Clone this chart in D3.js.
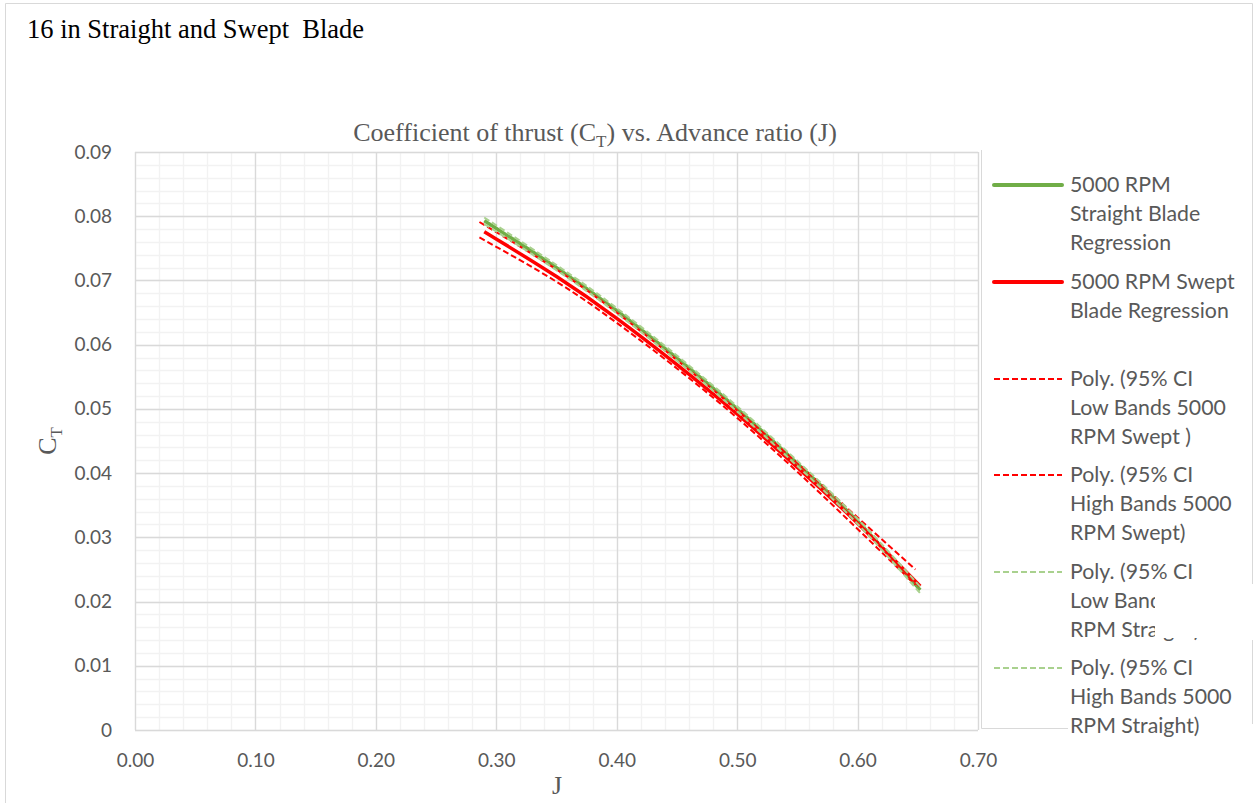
<!DOCTYPE html>
<html><head><meta charset="utf-8">
<script src="https://cdn.jsdelivr.net/npm/d3@7"></script>
<style>body{margin:0;background:#fff}svg{display:block}</style>
</head><body>
<svg id="c" width="1254" height="803"></svg>
<script>
// Data
const jReg = [0.29, 0.35, 0.40, 0.45, 0.50, 0.55, 0.60, 0.652];
const straightReg = [0.0793, 0.0720, 0.0653, 0.0579, 0.0500, 0.0415, 0.0325, 0.0218];
const sweptReg = [0.0776, 0.0706, 0.0641, 0.0569, 0.0492, 0.0409, 0.0322, 0.0224];
const jBandSwept = [0.286, 0.35, 0.40, 0.45, 0.50, 0.55, 0.60, 0.648];
const sweptLow = [0.0767, 0.0698, 0.0634, 0.0563, 0.0486, 0.0402, 0.0313, 0.0226];
const sweptHigh = [0.0791, 0.0717, 0.0650, 0.0576, 0.0498, 0.0416, 0.0331, 0.0250];
const jBandStraight = [0.29, 0.35, 0.40, 0.45, 0.50, 0.55, 0.60, 0.652];
const straightLow = [0.0788, 0.0716, 0.0649, 0.0575, 0.0496, 0.0411, 0.0321, 0.0213];
const straightHigh = [0.0798, 0.0724, 0.0657, 0.0583, 0.0504, 0.0419, 0.0329, 0.0223];
const xTicks = [0, 0.1, 0.2, 0.3, 0.4, 0.5, 0.6, 0.7];
const yTicks = [0, 0.01, 0.02, 0.03, 0.04, 0.05, 0.06, 0.07, 0.08, 0.09];
const legendLabels = [
  ["5000 RPM", "Straight Blade", "Regression"],
  ["5000 RPM Swept", "Blade Regression"],
  ["Poly. (95% CI", "Low Bands 5000", "RPM Swept )"],
  ["Poly. (95% CI", "High Bands 5000", "RPM Swept)"],
  ["Poly. (95% CI", "Low Bands 5000", "RPM Straight)"],
  ["Poly. (95% CI", "High Bands 5000", "RPM Straight)"]
];

const svg = d3.select("#c");
const x = d3.scaleLinear().domain([0, 0.7]).range([135, 978]);
const y = d3.scaleLinear().domain([0, 0.09]).range([730, 152]);

// chart border
svg.append("path").attr("d", "M5.5,803 V3.5 H1252.5 V585").attr("fill", "none").attr("stroke", "#D9D9D9");
svg.append("path").attr("d", "M1252.5,640 V724").attr("fill", "none").attr("stroke", "#D9D9D9");

// minor grid
const g = svg.append("g");
g.selectAll(".mx").data(d3.range(0, 0.7001, 0.02)).join("line")
  .attr("x1", d => Math.round(x(d)) + 0.5).attr("x2", d => Math.round(x(d)) + 0.5)
  .attr("y1", y(0)).attr("y2", y(0.09)).attr("stroke", "#F2F2F2").attr("stroke-width", 1.3);
g.selectAll(".my").data(d3.range(0, 0.09001, 0.002)).join("line")
  .attr("y1", d => Math.round(y(d)) + 0.5).attr("y2", d => Math.round(y(d)) + 0.5)
  .attr("x1", x(0)).attr("x2", x(0.7)).attr("stroke", "#F2F2F2").attr("stroke-width", 1.3);
// major grid
g.selectAll(".Mx").data(xTicks).join("line")
  .attr("x1", d => Math.round(x(d)) + 0.5).attr("x2", d => Math.round(x(d)) + 0.5)
  .attr("y1", y(0)).attr("y2", y(0.09)).attr("stroke", "#D9D9D9").attr("stroke-width", 1.3);
g.selectAll(".My").data(yTicks).join("line")
  .attr("y1", d => Math.round(y(d)) + 0.5).attr("y2", d => Math.round(y(d)) + 0.5)
  .attr("x1", x(0)).attr("x2", x(0.7)).attr("stroke", "#D9D9D9").attr("stroke-width", 1.3);

// axes labels via d3 axes
const xAxis = svg.append("g").attr("transform", `translate(0,${y(0)})`)
  .call(d3.axisBottom(x).tickValues(xTicks).tickFormat(d3.format(".2f")).tickSize(0).tickPadding(24));
const yAxis = svg.append("g").attr("transform", `translate(${x(0)},0)`)
  .call(d3.axisLeft(y).tickValues(yTicks).tickFormat(d => d === 0 ? "0" : d3.format(".2f")(d)).tickSize(0).tickPadding(23));
[xAxis, yAxis].forEach(a => {
  a.select(".domain").remove();
  a.selectAll("text").attr("font-family", "Lato, 'Noto Sans', sans-serif").attr("font-size", 19).attr("fill", "#595959");
});

// curves
const line = d3.line().x(d => x(d[0])).y(d => y(d[1])).curve(d3.curveNatural);
const series = [
  {j: jReg, v: straightReg, color: "#70AD47", w: 3.5, dash: null},
  {j: jReg, v: sweptReg, color: "#FF0000", w: 3.5, dash: null},
  {j: jBandSwept, v: sweptLow, color: "#FF0000", w: 2, dash: "6,3"},
  {j: jBandSwept, v: sweptHigh, color: "#FF0000", w: 2, dash: "6,3"},
  {j: jBandStraight, v: straightLow, color: "#A9D18E", w: 2, dash: "6,3"},
  {j: jBandStraight, v: straightHigh, color: "#A9D18E", w: 2, dash: "6,3"}
];
series.forEach(s => {
  svg.append("path").datum(s.j.map((j, i) => [j, s.v[i]]))
    .attr("d", line).attr("fill", "none").attr("stroke", s.color)
    .attr("stroke-width", s.w).attr("stroke-dasharray", s.dash);
});

// titles
svg.append("text").attr("x", 27).attr("y", 38).attr("font-family", "'Liberation Serif', 'Times New Roman', serif")
  .attr("font-size", 26.5).attr("fill", "#000").style("white-space", "pre").text("16 in Straight and Swept  Blade");
const t = svg.append("text").attr("x", 595).attr("y", 141).attr("text-anchor", "middle")
  .attr("font-family", "'Liberation Serif', serif").attr("font-size", 26).attr("fill", "#595959");
t.append("tspan").text("Coefficient of thrust (C");
t.append("tspan").attr("font-size", 17).attr("dy", 6).text("T");
t.append("tspan").attr("dy", -6).text(") vs. Advance ratio (J)");
svg.append("text").attr("x", 557).attr("y", 794).attr("text-anchor", "middle")
  .attr("font-family", "'Liberation Serif', serif").attr("font-size", 26).attr("fill", "#595959").text("J");
const yt = svg.append("text").attr("transform", "translate(56,441) rotate(-90)").attr("text-anchor", "middle")
  .attr("font-family", "'Liberation Serif', serif").attr("font-size", 26).attr("fill", "#595959");
yt.append("tspan").text("C");
yt.append("tspan").attr("font-size", 17).attr("dy", 6).text("T");

// legend
svg.append("path").attr("d", "M981.5,150 V728.5 H1068").attr("fill", "none").attr("stroke", "#D9D9D9");
const legY = [185, 282, 379, 475, 572, 668];
legendLabels.forEach((lab, i) => {
  const s = series[i];
  svg.append("line").attr("x1", 994).attr("x2", 1062).attr("y1", legY[i]).attr("y2", legY[i])
    .attr("stroke", s.color).attr("stroke-width", s.dash ? 2 : 4).attr("stroke-dasharray", s.dash)
    .attr("stroke-linecap", s.dash ? "butt" : "round");
  lab.forEach((txt, k) => {
    svg.append("text").attr("x", 1070).attr("y", legY[i] + 7 + k * 29)
      .attr("font-family", "Lato, 'Noto Sans', sans-serif").attr("font-size", 21.3).attr("fill", "#595959").text(txt);
  });
});
// white patch covering part of the legend, as in the reference
svg.append("rect").attr("x", 1155).attr("y", 584).attr("width", 99).attr("height", 54).attr("fill", "#fff");
</script>
</body></html>
